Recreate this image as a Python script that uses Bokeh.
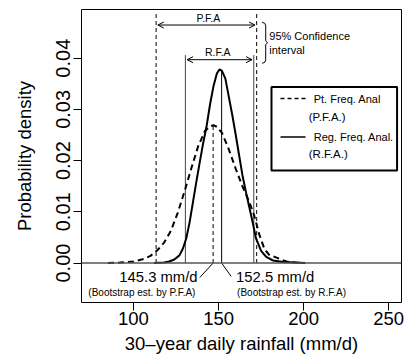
import numpy as np
from bokeh.plotting import figure
from bokeh.models import (Range1d, FixedTicker, Span, Arrow, OpenHead, Label,
                          PrintfTickFormatter)
from bokeh.embed import file_html
from bokeh.resources import INLINE

# ---------------- data ----------------
pfa_x = [85, 92, 100, 106, 110, 114, 118, 122, 126, 130, 134, 138, 142, 145,
         147, 149, 152, 156, 160, 164, 168, 171, 174, 177, 180, 183, 186, 190, 195, 200]
pfa_y = [0.0000, 0.0001, 0.0003, 0.0008, 0.0014, 0.0025, 0.0040, 0.0063, 0.0098,
         0.0140, 0.0185, 0.0228, 0.0258, 0.0267, 0.0269, 0.0266, 0.0254, 0.0222,
         0.0185, 0.0150, 0.0120, 0.0092, 0.0055, 0.0027, 0.0015, 0.0012, 0.0008,
         0.0003, 0.0001, 0.0000]

rfa_x = [112, 118, 121, 124, 127, 129, 131, 133, 135, 137, 139, 141, 143, 145,
         147, 149, 150.5, 152, 154, 156, 158, 160, 162, 164, 166, 168, 170, 172,
         175, 178, 182, 188, 195, 201]
rfa_y = [0.0000, 0.0001, 0.0003, 0.0007, 0.0015, 0.0028, 0.0048, 0.0080, 0.0120,
         0.0160, 0.0198, 0.0235, 0.0268, 0.0310, 0.0345, 0.0370, 0.0378, 0.0375,
         0.0360, 0.0325, 0.0290, 0.0252, 0.0212, 0.0172, 0.0140, 0.0110, 0.0080,
         0.0048, 0.0024, 0.0012, 0.0005, 0.0002, 0.0001, 0.0000]

pfa_ci = [113.3, 172.4]          # 95% confidence interval, P.F.A
rfa_ci = [130.5, 170.7]          # 95% confidence interval, R.F.A
pfa_est_x = 146.8                # position of P.F.A estimate line
rfa_est_x = 151.8                # position of R.F.A estimate line
pfa_est_label = "145.3 mm/d"
rfa_est_label = "152.5 mm/d"
pfa_est_note = "(Bootstrap est. by P.F.A)"
rfa_est_note = "(Bootstrap est. by R.F.A)"

x_ticks = [100, 150, 200, 250]
y_ticks = [0.00, 0.01, 0.02, 0.03, 0.04]

FONT = "Liberation Sans"

p = figure(width=408, height=358, output_backend="svg",
           toolbar_location=None, x_range=Range1d(69.45, 257.5),
           y_range=Range1d(-0.0077, 0.0495),
           min_border_left=81, min_border_right=7, min_border_top=9,
           min_border_bottom=56)
p.background_fill_color = "white"
p.border_fill_color = "white"
p.outline_line_color = "black"
p.outline_line_width = 1
p.grid.visible = False

# axes
p.xaxis.ticker = FixedTicker(ticks=x_ticks)
p.yaxis.ticker = FixedTicker(ticks=y_ticks)
p.yaxis.formatter = PrintfTickFormatter(format="%.2f")
p.yaxis.major_label_orientation = "vertical"
for ax in (p.xaxis[0], p.yaxis[0]):
    ax.axis_line_color = None
    ax.minor_tick_line_color = None
    ax.major_tick_out = 8
    ax.major_tick_in = 0
    ax.major_tick_line_color = "black"
    ax.major_label_text_color = "black"
    ax.major_label_text_font = FONT
    ax.axis_label_text_font = FONT
    ax.axis_label_text_font_style = "normal"
    ax.axis_label_text_color = "black"
p.xaxis.major_label_text_font_size = "18.5px"
p.yaxis.major_label_text_font_size = "20px"
p.xaxis.axis_label = "30\u2013year daily rainfall (mm/d)"
p.yaxis.axis_label = "Probability density"
p.xaxis.axis_label_text_font_size = "18.5px"
p.yaxis.axis_label_text_font_size = "18.5px"
p.xaxis.major_label_standoff = 1
p.yaxis.major_label_standoff = 3
p.xaxis.axis_label_standoff = 5
p.yaxis.axis_label_standoff = 19

# zero line
p.add_layout(Span(location=0, dimension="width", line_color="#555555",
                  line_width=1.5))

# confidence interval lines
p.segment(x0=pfa_ci, y0=[0, 0], x1=pfa_ci, y1=[0.0488, 0.0488],
          line_color="black", line_width=1, line_dash="4 3")
p.segment(x0=rfa_ci, y0=[0, 0], x1=rfa_ci, y1=[0.0406, 0.0406],
          line_color="#444444", line_width=1)

# estimate lines
p.segment(x0=[pfa_est_x], y0=[0], x1=[pfa_est_x],
          y1=[float(np.interp(pfa_est_x, pfa_x, pfa_y))],
          line_color="black", line_width=1, line_dash="4 3")
p.segment(x0=[rfa_est_x], y0=[0], x1=[rfa_est_x],
          y1=[float(np.interp(rfa_est_x, rfa_x, rfa_y))],
          line_color="black", line_width=1)

# density curves
p.line(pfa_x, pfa_y, line_color="black", line_width=2, line_dash="6 4")
p.line(rfa_x, rfa_y, line_color="black", line_width=2)

# CI arrows
y_pfa_arrow, y_rfa_arrow = 0.04647, 0.0397
p.add_layout(Arrow(start=OpenHead(size=6, line_width=1), end=OpenHead(size=6, line_width=1),
                   x_start=pfa_ci[0] + 1.0, y_start=y_pfa_arrow,
                   x_end=pfa_ci[1] - 1.0, y_end=y_pfa_arrow, line_width=1))
p.add_layout(Arrow(start=OpenHead(size=6, line_width=1), end=OpenHead(size=6, line_width=1),
                   x_start=rfa_ci[0] + 1.0, y_start=y_rfa_arrow,
                   x_end=rfa_ci[1] - 1.0, y_end=y_rfa_arrow, line_width=1))

def lab(x, y, text, size, align="left"):
    p.add_layout(Label(x=x, y=y, text=text, text_font=FONT,
                       text_font_size=size, text_align=align,
                       text_baseline="middle", text_color="black"))

lab(144.0, 0.0478, "P.F.A", "10.5px", "center")
lab(149.5, 0.0412, "R.F.A", "10.5px", "center")

# brace
brace_x = [175.6, 177.2, 177.7, 177.7, 178.7, 177.7, 177.7, 177.2, 175.6]
brace_y = [0.0470, 0.0468, 0.0463, 0.0434, 0.0430, 0.0426, 0.0397, 0.0392, 0.0390]
p.line(brace_x, brace_y, line_color="black", line_width=1)
lab(179.8, 0.0444, "95% Confidence", "11px")
lab(179.8, 0.0415, "interval", "11px")

# legend box
p.quad(left=181.1, right=254.9, bottom=0.01807, top=0.03438,
       fill_color="white", line_color="black", line_width=2)
p.line([186.4, 202.1], [0.03211, 0.03211], line_color="black",
       line_width=1.5, line_dash="4 3")
p.line([186.4, 201.1], [0.02459, 0.02459], line_color="black", line_width=1.5)
lab(205.9, 0.03211, "Pt. Freq. Anal", "11px")
lab(203.0, 0.02851, "(P.F.A.)", "11.5px")
lab(205.9, 0.02459, "Reg. Freq. Anal.", "11px")
lab(203.0, 0.02134, "(R.F.A.)", "11.5px")

# estimate labels and leaders
p.segment(x0=[pfa_est_x, rfa_est_x], y0=[0, 0], x1=[139.0, 157.4],
          y1=[-0.0028, -0.0026], line_color="black", line_width=1)
lab(137.6, -0.00275, pfa_est_label, "14.8px", "right")
lab(136.4, -0.00576, pfa_est_note, "10px", "right")
lab(160.3, -0.00275, rfa_est_label, "14.8px", "left")
lab(160.9, -0.00576, rfa_est_note, "10px", "left")

open("out.html", "w").write(file_html(p, INLINE))
